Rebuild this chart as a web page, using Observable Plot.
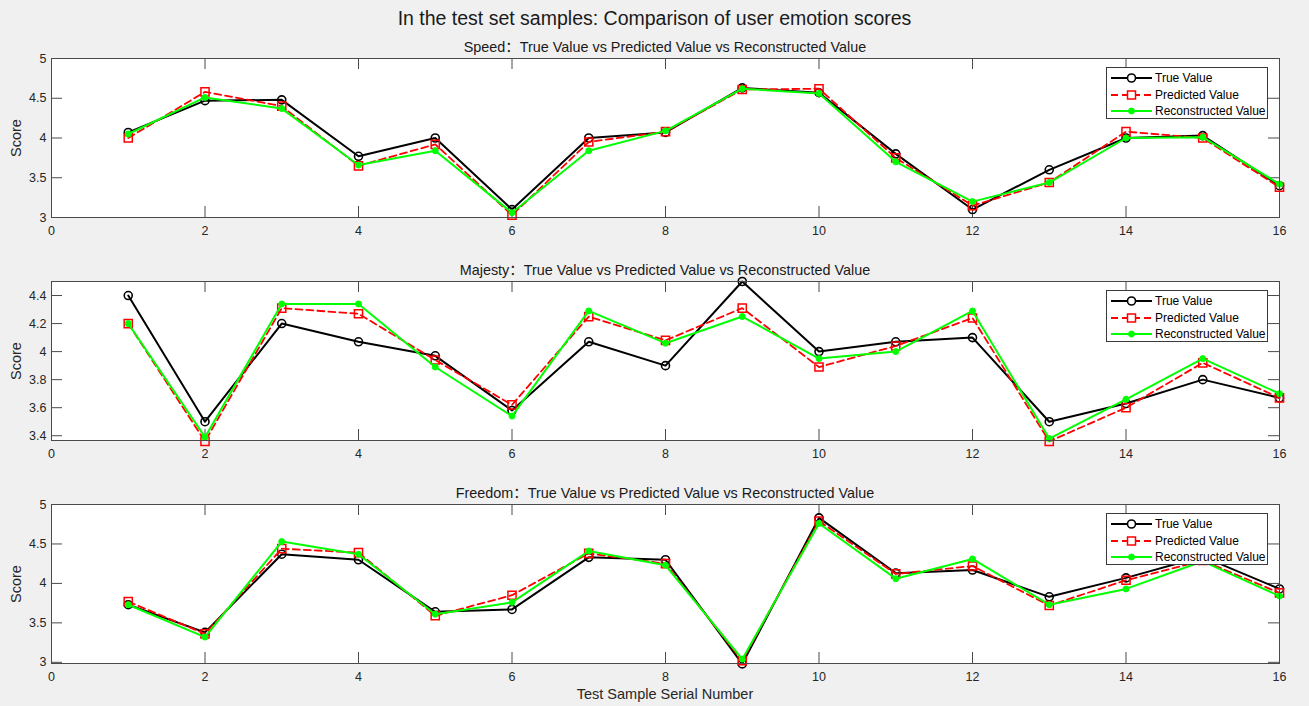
<!DOCTYPE html>
<html>
<head>
<meta charset="utf-8">
<script src="https://cdn.jsdelivr.net/npm/d3@7"></script>
<script src="https://cdn.jsdelivr.net/npm/@observablehq/plot@0.6"></script>
<style>
  html, body { margin: 0; padding: 0; background: #f0f0f0; }
  #fig { position: relative; width: 1309px; height: 706px; background: #f0f0f0; overflow: hidden;
         font-family: "Liberation Sans", Arial, Helvetica, "Noto Sans CJK SC", sans-serif; color: #262626; }
  .abs { position: absolute; white-space: nowrap; }
  .title { left: 0; width: 1309px; text-align: center; font-size: 19.5px; line-height: 22px; color: #1a1a1a; }
  .sub { left: 51px; width: 1228px; text-align: center; font-size: 14.4px; line-height: 16px; color: #1a1a1a; }
  .ylab { font-size: 14.5px; line-height: 16px; transform: translate(-50%, -50%) rotate(-90deg); }
  .xlab { left: 51px; width: 1228px; text-align: center; font-size: 14.5px; line-height: 16px; }
  .legend { background: #fff; border: 1px solid #3a3a3a; width: 160px; height: 50px; box-sizing: content-box; }
  .legend .row { position: absolute; left: 0; height: 16px; width: 160px; }
  .legend svg { position: absolute; left: 2px; top: 0; }
  .legend span { position: absolute; left: 48px; top: 0; font-size: 12px; line-height: 16px; color: #000; }
  svg.plot { position: absolute; left: 0; }
</style>
</head>
<body>
<div id="fig"></div>
<script>
// ---------- data ----------
const samples = [1, 2, 3, 4, 5, 6, 7, 8, 9, 10, 11, 12, 13, 14, 15, 16];
const xTicks = [0, 2, 4, 6, 8, 10, 12, 14, 16];

const speedTrue  = [4.07, 4.47, 4.48, 3.77, 4.00, 3.10, 4.00, 4.07, 4.63, 4.57, 3.80, 3.10, 3.60, 4.00, 4.03, 3.40];
const speedPred  = [4.00, 4.58, 4.40, 3.65, 3.92, 3.03, 3.95, 4.08, 4.61, 4.62, 3.75, 3.15, 3.44, 4.08, 4.00, 3.38];
const speedRecon = [4.05, 4.51, 4.37, 3.66, 3.84, 3.06, 3.84, 4.09, 4.62, 4.56, 3.70, 3.20, 3.44, 4.00, 4.01, 3.42];
const speedTicks = [3, 3.5, 4, 4.5, 5];

const majTrue  = [4.40, 3.50, 4.20, 4.07, 3.97, 3.58, 4.07, 3.90, 4.50, 4.00, 4.07, 4.10, 3.50, 3.63, 3.80, 3.67];
const majPred  = [4.20, 3.36, 4.31, 4.27, 3.94, 3.62, 4.25, 4.08, 4.31, 3.89, 4.04, 4.24, 3.36, 3.60, 3.92, 3.67];
const majRecon = [4.20, 3.39, 4.34, 4.34, 3.89, 3.54, 4.29, 4.06, 4.25, 3.95, 4.00, 4.29, 3.38, 3.66, 3.95, 3.70];
const majTicks = [3.4, 3.6, 3.8, 4, 4.2, 4.4];

const freeTrue  = [3.73, 3.38, 4.37, 4.30, 3.64, 3.67, 4.33, 4.30, 2.98, 4.83, 4.13, 4.17, 3.83, 4.07, 4.34, 3.93];
const freePred  = [3.77, 3.36, 4.44, 4.39, 3.59, 3.85, 4.38, 4.25, 3.02, 4.79, 4.12, 4.22, 3.72, 4.04, 4.29, 3.88];
const freeRecon = [3.73, 3.32, 4.53, 4.37, 3.61, 3.76, 4.41, 4.23, 3.04, 4.76, 4.06, 4.31, 3.73, 3.93, 4.28, 3.84];
const freeTicks = [3, 3.5, 4, 4.5, 5];

const seriesNames = ["True Value", "Predicted Value", "Reconstructed Value"];
const panelNames = ["Speed", "Majesty", "Freedom"];
const mainTitle = "In the test set samples: Comparison of user emotion scores";
const subTitleSuffix = "：True Value vs Predicted Value vs Reconstructed Value";
const yLabel = "Score";
const xLabel = "Test Sample Serial Number";

// ---------- layout / style ----------
const W = 1309, ML = 51, MR = 30, MT = 2, MB = 24, FH = 159;
const axisColor = "#4a4a4a";
const styles = [
  {stroke: "#000000", strokeWidth: 2, dash: null, symbol: "circle", r: 4, fill: "none", mStroke: 1.6},
  {stroke: "#ff0000", strokeWidth: 1.8, dash: "7,4", symbol: "square", r: 4.6, fill: "none", mStroke: 1.5},
  {stroke: "#00ff00", strokeWidth: 2, dash: null, symbol: "circle", r: 3, fill: "#00ff00", mStroke: 1}
];
const panels = [
  {name: panelNames[0], svgTop: 56,  domain: [3, 5],       ticks: speedTicks, series: [speedTrue, speedPred, speedRecon]},
  {name: panelNames[1], svgTop: 279, domain: [3.366, 4.5], ticks: majTicks,   series: [majTrue, majPred, majRecon]},
  {name: panelNames[2], svgTop: 502, domain: [2.985, 5],   ticks: freeTicks,  series: [freeTrue, freePred, freeRecon]}
];

const fig = document.getElementById("fig");
function addDiv(cls, text, css) {
  const d = document.createElement("div");
  d.className = "abs " + cls;
  d.textContent = text;
  Object.assign(d.style, css);
  fig.appendChild(d);
  return d;
}

addDiv("title", mainTitle, {top: "7px"});

const fmt = d => String(+d.toFixed(2));

panels.forEach((p, pi) => {
  const frameTop = p.svgTop + MT;
  addDiv("sub", p.name + subTitleSuffix, {top: (frameTop - 19) + "px"});
  addDiv("ylab", yLabel, {left: "16px", top: (frameTop + FH / 2) + "px"});

  const marks = [
    Plot.frame({fill: "white", stroke: null}),
    Plot.axisX({ticks: xTicks, tickSize: 0, tickPadding: 9, tickFormat: fmt, label: null}),
    Plot.axisY({ticks: p.ticks, tickSize: 0, tickPadding: 5, tickFormat: fmt, label: null}),
    // inward ticks, bottom / top / left / right
    Plot.ruleX(xTicks, {x: d => d, insetTop: FH - 11, stroke: axisColor, strokeWidth: 1}),
    Plot.ruleX(xTicks, {x: d => d, insetBottom: FH - 11, stroke: axisColor, strokeWidth: 1}),
    Plot.ruleY(p.ticks, {y: d => d, insetRight: (W - ML - MR) - 11, stroke: axisColor, strokeWidth: 1}),
    Plot.ruleY(p.ticks, {y: d => d, insetLeft: (W - ML - MR) - 11, stroke: axisColor, strokeWidth: 1})
  ];
  p.series.forEach((vals, si) => {
    const s = styles[si];
    const rows = samples.map((x, i) => ({x, y: vals[i]}));
    marks.push(Plot.line(rows, {x: "x", y: "y", stroke: s.stroke, strokeWidth: s.strokeWidth,
      strokeDasharray: s.dash, strokeLinejoin: "round"}));
    marks.push(Plot.dot(rows, {x: "x", y: "y", symbol: s.symbol, r: s.r, stroke: s.stroke,
      strokeWidth: s.mStroke, fill: s.fill}));
  });
  marks.push(Plot.frame({stroke: axisColor, strokeWidth: 1}));

  const svg = Plot.plot({
    width: W, height: MT + FH + MB,
    marginLeft: ML, marginRight: MR, marginTop: MT, marginBottom: MB,
    x: {domain: [0, 16]},
    y: {domain: p.domain},
    style: {background: "transparent", overflow: "visible", color: "#262626",
            fontFamily: '"Liberation Sans", Arial, Helvetica, sans-serif', fontSize: "12.5px"},
    marks
  });
  svg.classList.add("plot");
  svg.style.top = p.svgTop + "px";
  fig.appendChild(svg);

  // legend
  const lg = document.createElement("div");
  lg.className = "abs legend";
  lg.style.left = "1106px";
  lg.style.top = (frameTop + 9) + "px";
  seriesNames.forEach((nm, si) => {
    const s = styles[si];
    const row = document.createElement("div");
    row.className = "row";
    row.style.top = (2 + si * 16.5) + "px";
    const ns = "http://www.w3.org/2000/svg";
    const sv = document.createElementNS(ns, "svg");
    sv.setAttribute("width", "44"); sv.setAttribute("height", "16");
    const ln = document.createElementNS(ns, "line");
    ln.setAttribute("x1", "2"); ln.setAttribute("x2", "43"); ln.setAttribute("y1", "8"); ln.setAttribute("y2", "8");
    ln.setAttribute("stroke", s.stroke); ln.setAttribute("stroke-width", s.strokeWidth);
    if (s.dash) ln.setAttribute("stroke-dasharray", s.dash);
    sv.appendChild(ln);
    let mk;
    if (s.symbol === "square") {
      mk = document.createElementNS(ns, "rect");
      mk.setAttribute("x", 22.5 - 4); mk.setAttribute("y", 8 - 4);
      mk.setAttribute("width", 8); mk.setAttribute("height", 8);
    } else {
      mk = document.createElementNS(ns, "circle");
      mk.setAttribute("cx", 22.5); mk.setAttribute("cy", 8); mk.setAttribute("r", s.r);
    }
    mk.setAttribute("stroke", s.stroke); mk.setAttribute("stroke-width", s.mStroke);
    mk.setAttribute("fill", s.fill === "none" ? "white" : s.fill);
    sv.appendChild(mk);
    row.appendChild(sv);
    const sp = document.createElement("span");
    sp.textContent = nm;
    row.appendChild(sp);
    lg.appendChild(row);
  });
  fig.appendChild(lg);
});

addDiv("xlab", xLabel, {top: "686px"});
</script>
</body>
</html>
